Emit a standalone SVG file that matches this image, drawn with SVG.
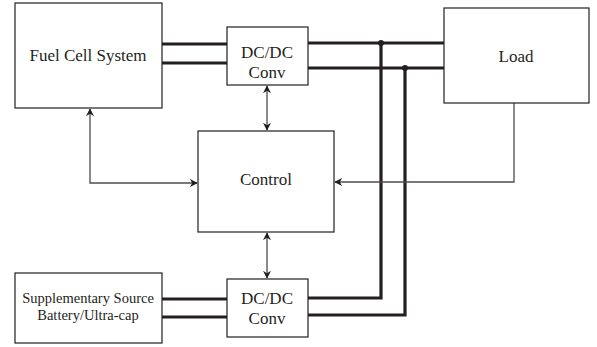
<svg xmlns="http://www.w3.org/2000/svg" width="597" height="347" viewBox="0 0 597 347">
<style>
.box{fill:#fff;stroke:#231f20;stroke-width:1.2}
.t{font-family:'Liberation Serif','Times New Roman',serif;fill:#231f20;text-anchor:middle;font-size:17px}
.s{font-size:14.5px}
.bus{fill:none;stroke:#231f20;stroke-width:3.2}
.sig{fill:none;stroke:#4d4d4d;stroke-width:1.3}
</style>
<defs>
<marker id="ah" viewBox="0 0 10 10" refX="9" refY="5" markerWidth="8" markerHeight="8" markerUnits="userSpaceOnUse" orient="auto-start-reverse">
<path d="M0,0 L10,5 L0,10 L3,5 Z" fill="#231f20"/>
</marker>
</defs>
<rect width="597" height="347" fill="#fff"/>
<g id="connectors">
<path class="bus" d="M162,44 H227 M162,63 H227"/>
<path class="bus" d="M308,43 H444 M308,68 H444"/>
<path class="bus" d="M162,299 H227 M162,317 H227"/>
<path class="bus" d="M308,298 H381 V43 M308,315 H405 V68"/>
<circle cx="381" cy="43" r="3" fill="#231f20"/>
<circle cx="405" cy="68" r="3" fill="#231f20"/>
<path class="sig" d="M267,86 V130" marker-start="url(#ah)" marker-end="url(#ah)"/>
<path class="sig" d="M267,233 V278" marker-start="url(#ah)" marker-end="url(#ah)"/>
<path class="sig" d="M90,109 V183 H197" marker-start="url(#ah)" marker-end="url(#ah)"/>
<path class="sig" d="M514,103 V182 H335" marker-end="url(#ah)"/>
</g>
<g id="fuel-cell">
<rect class="box" x="15" y="3" width="147" height="105"/>
<text class="t" x="88" y="61">Fuel Cell System</text>
</g>
<g id="dcdc-top">
<rect class="box" x="227" y="27" width="81" height="58"/>
<text class="t" x="267" y="58">DC/DC</text>
<text class="t" x="267" y="78">Conv</text>
</g>
<g id="load">
<rect class="box" x="444" y="8" width="145" height="95"/>
<text class="t" x="516" y="62">Load</text>
</g>
<g id="control">
<rect class="box" x="198" y="131" width="136" height="101"/>
<text class="t" x="266" y="185">Control</text>
</g>
<g id="supplementary">
<rect class="box" x="15" y="273" width="147" height="70"/>
<text class="t s" x="88" y="303">Supplementary Source</text>
<text class="t s" x="88" y="320">Battery/Ultra-cap</text>
</g>
<g id="dcdc-bottom">
<rect class="box" x="227" y="279" width="81" height="58"/>
<text class="t" x="267" y="304">DC/DC</text>
<text class="t" x="267" y="324">Conv</text>
</g>
</svg>
